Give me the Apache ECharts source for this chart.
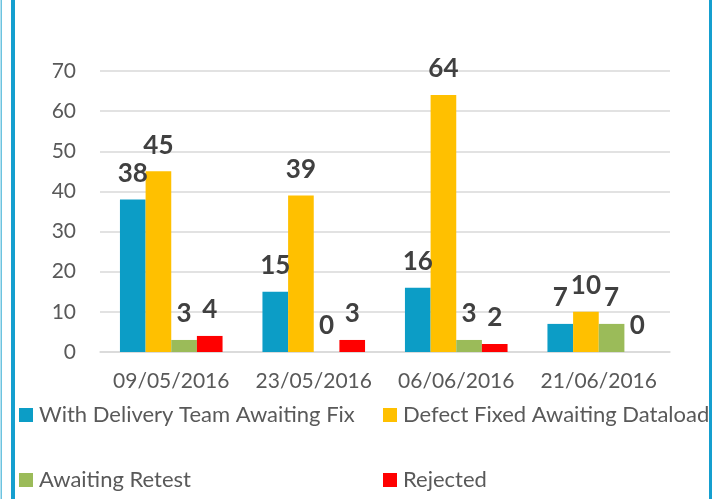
<!DOCTYPE html>
<html><head><meta charset="utf-8">
<script src="https://cdn.jsdelivr.net/npm/echarts@6/dist/echarts.min.js"></script>
<style>html,body{margin:0;padding:0;background:#fff}#c{width:712px;height:499px}</style>
</head><body><div id="c"></div>
<script>
const categories = ['09/05/2016','23/05/2016','06/06/2016','21/06/2016'];
const seriesNames = ['With Delivery Team Awaiting Fix','Defect Fixed Awaiting Dataload','Awaiting Retest','Rejected'];
const withDelivery = [38, 15, 16, 7];
const defectFixed = [45, 39, 64, 10];
const awaitingRetest = [3, 0, 3, 7];
const rejected = [4, 3, 2, 0];
const yTicks = [0,10,20,30,40,50,60,70];
const colors = ['#0C9DC6','#FFC000','#9BBB59','#FF0000'];
const values = [withDelivery, defectFixed, awaitingRetest, rejected];
const font = 'Lato, "Open Sans", sans-serif';

const chart = echarts.init(document.getElementById('c'));
const legendPos = [{left:19,top:404},{left:383,top:404},{left:19,top:469},{left:383,top:469}];
chart.setOption({
  animation:false,
  grid:{left:100,right:42,top:71,bottom:147},
  xAxis:{type:'category',data:categories,
    axisLine:{lineStyle:{color:'#d9d9d9',width:1.5}},axisTick:{show:false},
    axisLabel:{interval:0,hideOverlap:false,color:'#595959',fontSize:21,fontFamily:font,margin:19}},
  yAxis:{type:'value',min:yTicks[0],max:yTicks[yTicks.length-1],interval:10,
    axisLine:{show:false},axisTick:{show:false},
    splitLine:{lineStyle:{color:'#d9d9d9',width:1.5}},
    axisLabel:{color:'#595959',fontSize:21,fontFamily:font,margin:24}},
  legend: legendPos.map((p,i)=>({data:[seriesNames[i]],left:p.left,top:p.top,padding:0,
    itemWidth:14,itemHeight:14,itemGap:6,icon:'rect',
    textStyle:{color:'#595959',fontSize:22,fontFamily:font,padding:[0,0,0,1]}})),
  series: seriesNames.map((n,i)=>({name:n,type:'bar',data:values[i],
    barGap:'0%',barCategoryGap:'28%',
    itemStyle:{color:colors[i]},
    label:{show:true,position:'top',distance:13,color:'#404040',fontSize:26,fontWeight:'bold',fontFamily:font}})),
  graphic:[
    {type:'rect',shape:{x:0.5,y:0,width:1.5,height:499},style:{fill:'#6cc3e0'}},
    {type:'rect',shape:{x:11,y:0,width:4,height:499},style:{fill:'#159fcf'}},
    {type:'rect',shape:{x:709,y:0,width:3,height:499},style:{fill:'#159fcf'}}
  ]
});
</script></body></html>
